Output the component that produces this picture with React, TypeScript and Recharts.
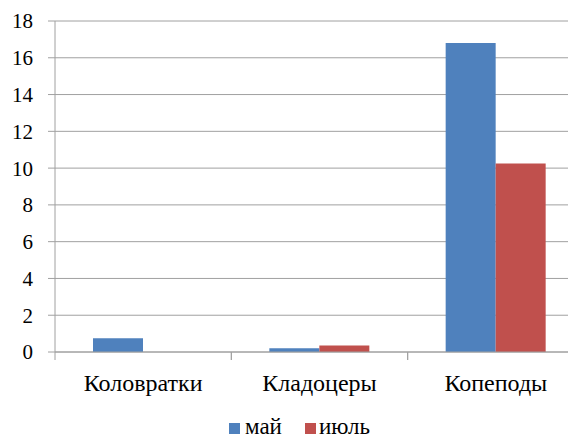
import React from 'react';
import { BarChart, Bar, XAxis, YAxis, CartesianGrid } from 'recharts';

const categories = ['Коловратки', 'Кладоцеры', 'Копеподы'];
const mayValues = [0.75, 0.2, 16.8];
const julyValues = [0, 0.35, 10.25];
const yTicks = [0, 2, 4, 6, 8, 10, 12, 14, 16, 18];
const seriesNames = ['май', 'июль'];
const seriesColors = ['#4F81BD', '#C0504D'];

const data = categories.map((c, i) => ({ name: c, may: mayValues[i], july: julyValues[i] }));

const FONT = 'Liberation Serif, DejaVu Serif, Noto Serif, Times New Roman, serif';
const AXIS_COLOR = '#a0a0a0';

const XTick = (props: any) => {
  const { x, y, payload } = props;
  const half = payload.offset || 0;
  const top = y - 22;
  return (
    <g>
      <line x1={x - half} x2={x - half} y1={top} y2={top + 8} stroke={AXIS_COLOR} strokeWidth={1} />
      <line x1={x + half} x2={x + half} y1={top} y2={top + 8} stroke={AXIS_COLOR} strokeWidth={1} />
      <text x={x} y={y} dy="0.71em" textAnchor="middle" fill="#000" fontSize={24} style={{ fontFamily: FONT }}>
        {payload.value}
      </text>
    </g>
  );
};

const YTick = (props: any) => {
  const { x, y, payload } = props;
  return (
    <text x={x} y={y} dy="0.355em" textAnchor="end" fill="#000" fontSize={21} style={{ fontFamily: FONT }}>
      {payload.value}
    </text>
  );
};

export default function App() {
  return (
    <div style={{ margin: -8, width: 576, height: 442, overflow: 'hidden', position: 'relative', background: '#fff' }}>
      <BarChart
        width={600}
        height={442}
        data={data}
        margin={{ top: 21, right: 16, left: 0, bottom: 0 }}
        barGap={0}
        barCategoryGap={38}
      >
        <CartesianGrid vertical={false} stroke={AXIS_COLOR} strokeDasharray="" />
        <XAxis
          dataKey="name"
          height={90}
          tickSize={8}
          tickMargin={14}
          tickLine={false}
          axisLine={{ stroke: AXIS_COLOR }}
          tick={<XTick />}
          interval={0}
        />
        <YAxis
          width={55}
          domain={[0, 18]}
          ticks={yTicks}
          tickSize={7}
          tickMargin={15}
          tickLine={{ stroke: AXIS_COLOR }}
          axisLine={{ stroke: AXIS_COLOR }}
          tick={<YTick />}
          interval={0}
        />
        <Bar dataKey="may" fill={seriesColors[0]} isAnimationActive={false} />
        <Bar dataKey="july" fill={seriesColors[1]} isAnimationActive={false} />
      </BarChart>
      <svg width={576} height={442} style={{ position: 'absolute', left: 0, top: 0, pointerEvents: 'none' }}>
        <rect x={229} y={423} width={11} height={11} fill={seriesColors[0]} />
        <text x={245} y={434} fontSize={23} fill="#000" style={{ fontFamily: FONT }}>{seriesNames[0]}</text>
        <rect x={305} y={423} width={11} height={11} fill={seriesColors[1]} />
        <text x={319} y={434} fontSize={23} fill="#000" style={{ fontFamily: FONT }}>{seriesNames[1]}</text>
      </svg>
    </div>
  );
}
